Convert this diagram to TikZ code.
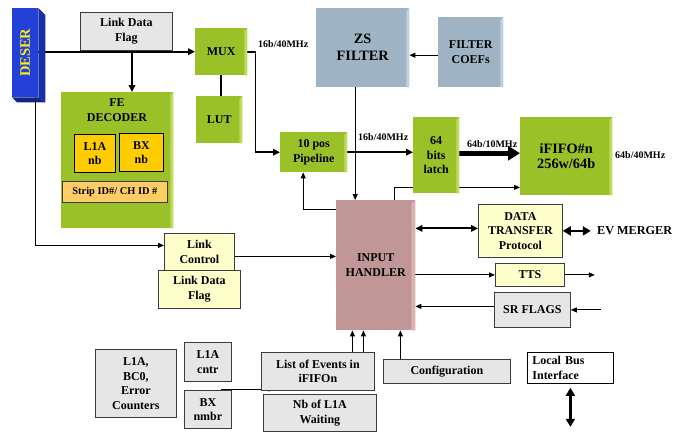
\documentclass[tikz,border=0pt]{standalone}
\usepackage{fontspec}
\setmainfont{Liberation Serif}
\usetikzlibrary{arrows.meta,calc}
\pgfdeclarelayer{bg}
\pgfsetlayers{bg,main}
\definecolor{grn}{RGB}{155,193,40}
\definecolor{grnl}{RGB}{190,218,95}
\definecolor{blu}{RGB}{158,180,196}
\definecolor{blul}{RGB}{192,210,224}
\definecolor{pnk}{RGB}{192,150,150}
\definecolor{pnkl}{RGB}{218,178,178}
\definecolor{dsr}{RGB}{35,65,215}
\definecolor{dsrd}{RGB}{25,45,165}
\definecolor{dsrt}{RGB}{255,235,20}
\definecolor{yel}{RGB}{255,255,204}
\definecolor{org}{RGB}{255,204,0}
\definecolor{orgl}{RGB}{255,204,102}
\definecolor{gry}{RGB}{230,230,230}
\definecolor{bdr}{RGB}{60,60,60}
\newcommand\bevelR[3]{\fill[#3] ($(#1.north east)+(-#2,#2)$) -- (#1.north east) -- (#1.south east) -- ($(#1.south east)+(-#2,0)$) -- cycle;}
\tikzset{
  base/.style={anchor=north west, inner sep=1pt, align=center, font=\fontsize{12}{14.5}\selectfont\bfseries},
  sz/.style 2 args={minimum width=#1, minimum height=#2},
  grnbox/.style={base, fill=grn},
  blubox/.style={base, fill=blu},
  pnkbox/.style={base, fill=pnk},
  gbox/.style={base, fill=gry, draw=bdr, line width=0.8pt},
  ybox/.style={base, fill=yel, draw=bdr, line width=0.8pt},
  obox/.style={base, fill=org, draw=black, line width=0.8pt},
  olbox/.style={base, fill=orgl, draw=bdr, line width=0.8pt},
  wbox/.style={base, fill=white, draw=black, line width=0.8pt},
  lbl/.style={font=\fontsize{10}{12}\selectfont\bfseries, inner sep=0pt, anchor=west},
  arr/.style={-{Triangle[length=6pt,width=5pt]}, line width=0.9pt},
  thkarr/.style={-{Triangle[length=7pt,width=6.5pt]}, line width=1.8pt},
  dbl/.style={{Triangle[length=7pt,width=6.5pt]}-{Triangle[length=7pt,width=6.5pt]}, line width=2pt},
  dblthk/.style={{Triangle[length=8pt,width=9pt]}-{Triangle[length=8pt,width=9pt]}, line width=2.8pt},
}
\begin{document}
\begin{tikzpicture}[x=1pt,y=-1pt]
\useasboundingbox (0,0) rectangle (684,432);
% DESER
\node[base, fill=dsr, sz={26}{89}] (deser) at (12,8) {};
\fill[dsrd] (deser.north east) -- ($(deser.north east)+(7,7)$) -- ($(deser.south east)+(7,5)$) -- (deser.south east) -- cycle;
\fill[dsrd!80!black] (deser.south west) -- (deser.south east) -- ($(deser.south east)+(7,5)$) -- ($(deser.south west)+(5,5)$) -- cycle;
\node[rotate=90, text=dsrt, font=\fontsize{14.5}{16}\selectfont\bfseries, inner sep=0pt] (desert) at (deser.center) {DESER};
% top left
\node[gbox, sz={92}{38}] (ldf1) at (80,12) {Link Data\\Flag};
\node[grnbox, sz={112}{136}] (fe) at (61,92) {};
\bevelR{fe}{3}{grnl}
\node[base, anchor=center] (fet) at (117,110) {FE\\DECODER};
\node[obox, sz={41}{38}] (l1a) at (74,134) {L1A\\nb};
\node[obox, sz={44}{38}] (bxnb) at (119,133) {BX\\nb};
\node[olbox, sz={105}{21}, font=\fontsize{10.4}{12}\selectfont\bfseries] (strip) at (62,181) {Strip ID\#/ CH ID \#};
% mux lut pipeline
\node[grnbox, sz={52}{47}] (mux) at (195,28) {MUX};
\bevelR{mux}{3}{grnl}
\node[grnbox, sz={46}{47}] (lut) at (196,96) {LUT};
\bevelR{lut}{3}{grnl}
\node[grnbox, sz={67}{40}] (pipe) at (280,132) {10 pos\\Pipeline};
\bevelR{pipe}{3}{grnl}
% filters
\node[blubox, sz={93}{79}, font=\fontsize{14.3}{17}\selectfont\bfseries] (zs) at (316,8) {ZS\\FILTER};
\bevelR{zs}{3}{blul}
\node[blubox, sz={65}{70}] (coef) at (438,17) {FILTER\\COEFs};
\bevelR{coef}{3}{blul}
% latch fifo
\node[grnbox, sz={46}{76}] (latch) at (413,117) {64\\bits\\latch};
\bevelR{latch}{3}{grnl}
\node[grnbox, sz={92}{78}, font=\fontsize{14.3}{15.5}\selectfont\bfseries] (ififo) at (520,117) {iFIFO\#n\\256w/64b};
\bevelR{ififo}{3}{grnl}
% input handler
\node[pnkbox, sz={79}{130}] (ih) at (336,200) {INPUT\\HANDLER};
\bevelR{ih}{4}{pnkl}
% link control
\node[ybox, sz={70}{37}] (lc) at (164,233) {Link\\Control};
\node[ybox, sz={82}{38}] (ldf2) at (158,270) {Link Data\\Flag};
% right side
\node[ybox, sz={84}{53}] (dt) at (478,204) {DATA\\TRANSFER\\Protocol};
\node[ybox, sz={69}{23}] (tts) at (495,263) {TTS};
\node[gbox, sz={76}{35}] (sr) at (494,292) {SR FLAGS};
\node[wbox, sz={86}{31}, align=left, text width=76pt] (lb) at (527,352) {Local Bus\\Interface};
\node[gbox, sz={127}{24}] (cfg) at (383,359) {Configuration};
% bottom
\node[gbox, sz={113}{38}] (list) at (261,352) {List of Events in\\iFIFOn};
\node[gbox, sz={113}{37}] (nb) at (263,394) {Nb of L1A\\Waiting};
\node[gbox, sz={81}{68}] (err) at (95,349) {L1A,\\BC0,\\Error\\Counters};
\node[gbox, sz={47}{39}] (l1ac) at (184,342) {L1A\\cntr};
\node[gbox, sz={47}{38}] (bxn) at (184,390) {BX\\nmbr};
% labels
\node[lbl] (lab1) at (258,44) {16b/40MHz};
\node[lbl] (lab2) at (358,137) {16b/40MHz};
\node[lbl] (lab3) at (467,144) {64b/10MHz};
\node[lbl] (lab4) at (615,155) {64b/40MHz};
\node[lbl, font=\fontsize{12.2}{14}\selectfont\bfseries] (ev) at (597,231) {EV MERGER};
\coordinate (j1) at (132,51.5);
\begin{pgfonlayer}{bg}
\draw[thkarr] (deser.east |- mux.west) -- (mux.west);
\draw[thkarr] (j1) -- (j1 |- fe.north);
\draw[line width=2pt] (mux.south) -- (mux.south |- lut.north);
\draw[thkarr] (mux.east) -- ++(8,0) |- (pipe.west);
\draw[thkarr] (pipe.east) -- (pipe.east -| latch.west);
\draw[arr] ([xshift=-7.5pt]zs.south) -- ([xshift=-7.5pt]zs.south |- ih.north);
\draw[arr] ([yshift=-3pt]coef.west) -- ([yshift=-3pt]coef.west -| zs.east);
\draw[line width=5pt, -{Triangle[length=12pt,width=14pt]}] ([yshift=2pt]latch.east) -- ([yshift=2pt]latch.east -| ififo.west);
\draw[arr] ([xshift=-21pt]ih.north east) |- ([yshift=8pt]ififo.south west);
\draw[arr] ([yshift=-9pt]ih.north west) -| ([xshift=-10.5pt]pipe.south);
\draw[arr] ([xshift=10pt]deser.south) |- ([yshift=6.5pt]lc.west);
\draw[arr] ([yshift=-4.5pt]lc.east) -- ([yshift=-4.5pt]lc.east -| ih.west);
\draw[dbl] ([yshift=2.5pt]dt.west -| ih.east) -- ([yshift=2.5pt]dt.west);
\draw[dblthk] (dt.east) -- ++(28,0);
\draw[arr] (tts.west -| ih.east) -- (tts.west);
\draw[arr] (tts.east) -- ++(30,0);
\draw[arr] ([xshift=30pt]sr.east) -- (sr.east);
\draw[arr] ([yshift=3.5pt]sr.west) -- ([yshift=3.5pt]sr.west -| ih.east);
\draw[dblthk] ([yshift=-4pt]lb.south) -- ([yshift=-43pt]lb.south);
\draw[arr] ([xshift=-46.5pt]cfg.north) -- ([xshift=-46.5pt]cfg.north |- ih.south);
\draw[arr] ([xshift=34.5pt]list.north) -- ([xshift=34.5pt]list.north |- ih.south);
\draw[arr] ([xshift=45.5pt]list.north) -- ([xshift=45.5pt]list.north |- ih.south);
\draw[arr] ([xshift=13.5pt,yshift=1pt]bxn.north) -- ([xshift=13.5pt,yshift=1pt]bxn.north -| list.west);
\end{pgfonlayer}
\end{tikzpicture}
\end{document}
